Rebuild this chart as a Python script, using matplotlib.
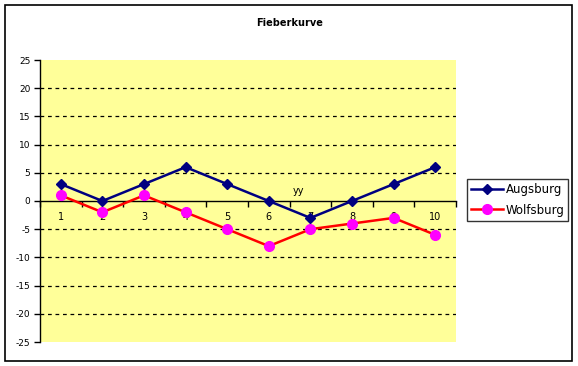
import matplotlib
matplotlib.use("Agg")
import matplotlib.pyplot as plt
from matplotlib.patches import Rectangle

categories = [1, 2, 3, 4, 5, 6, 7, 8, 9, 10]
augsburg = [3, 0, 3, 6, 3, 0, -3, 0, 3, 6]
wolfsburg = [1, -2, 1, -2, -5, -8, -5, -4, -3, -6]
yticks = [-25, -20, -15, -10, -5, 0, 5, 10, 15, 20, 25]
title = "Fieberkurve"
xlabel = "yy"

W, H = 578, 366
fig = plt.figure(figsize=(W / 100, H / 100), dpi=100)
plt.rcParams['font.family'] = ['DejaVu Sans']

# outer border
fig.patches.append(Rectangle((5 / W, (H - 361) / H), 567 / W, 356 / H,
                             transform=fig.transFigure, fill=False,
                             edgecolor='black', linewidth=1.2))

left, right, top, bottom = 40, 456, 60, 342
ax = fig.add_axes([left / W, (H - bottom) / H, (right - left) / W, (bottom - top) / H])
ax.set_facecolor('#FFFF99')
x = list(range(1, len(categories) + 1))
ax.set_xlim(0.5, len(categories) + 0.5)
ax.set_ylim(-25, 25)

for yv in yticks:
    if yv not in (-25, 0, 25):
        ax.axhline(yv, color='black', linestyle=(0, (3, 3)), linewidth=0.9, zorder=1)

ax.plot(x, augsburg, color='#000080', linewidth=1.8, marker='D', markersize=5.5,
        markerfacecolor='#000080', markeredgecolor='#000080', label='Augsburg', zorder=3)
ax.plot(x, wolfsburg, color='#FF0000', linewidth=1.8, marker='o', markersize=7,
        markerfacecolor='#FF00FF', markeredgecolor='#FF00FF', label='Wolfsburg', zorder=3)

for s in ['top', 'right']:
    ax.spines[s].set_visible(False)
ax.spines['bottom'].set_position(('data', 0))
ax.spines['left'].set_linewidth(1.0)
ax.spines['bottom'].set_linewidth(1.0)

ax.set_yticks(yticks)
ax.set_yticklabels([str(v) for v in yticks])
ax.tick_params(axis='y', length=4, width=1, labelsize=6.5, pad=3)
ax.set_xticks(x)
ax.set_xticklabels([str(c) for c in categories])
ax.set_xticks([i + 0.5 for i in range(0, len(categories) + 1)], minor=True)
ax.tick_params(axis='x', which='major', length=0, labelsize=7, pad=8)
ax.tick_params(axis='x', which='minor', length=4, width=1, direction='out')

ax.text(6.72, 0.8, xlabel, fontsize=7, ha='center', va='bottom')

fig.text(290 / W, 1 - 23 / H, title, fontsize=7, fontweight='bold', ha='center', va='center')

leg = fig.legend(loc='center', bbox_to_anchor=(517.5 / W, 1 - 200 / H), fontsize=8.5,
                 frameon=True, fancybox=False, edgecolor='black', borderpad=0.35,
                 handlelength=2.7, handletextpad=0.25, labelspacing=0.6)
leg.get_frame().set_linewidth(1.0)

fig.savefig('out.png', dpi=100)
